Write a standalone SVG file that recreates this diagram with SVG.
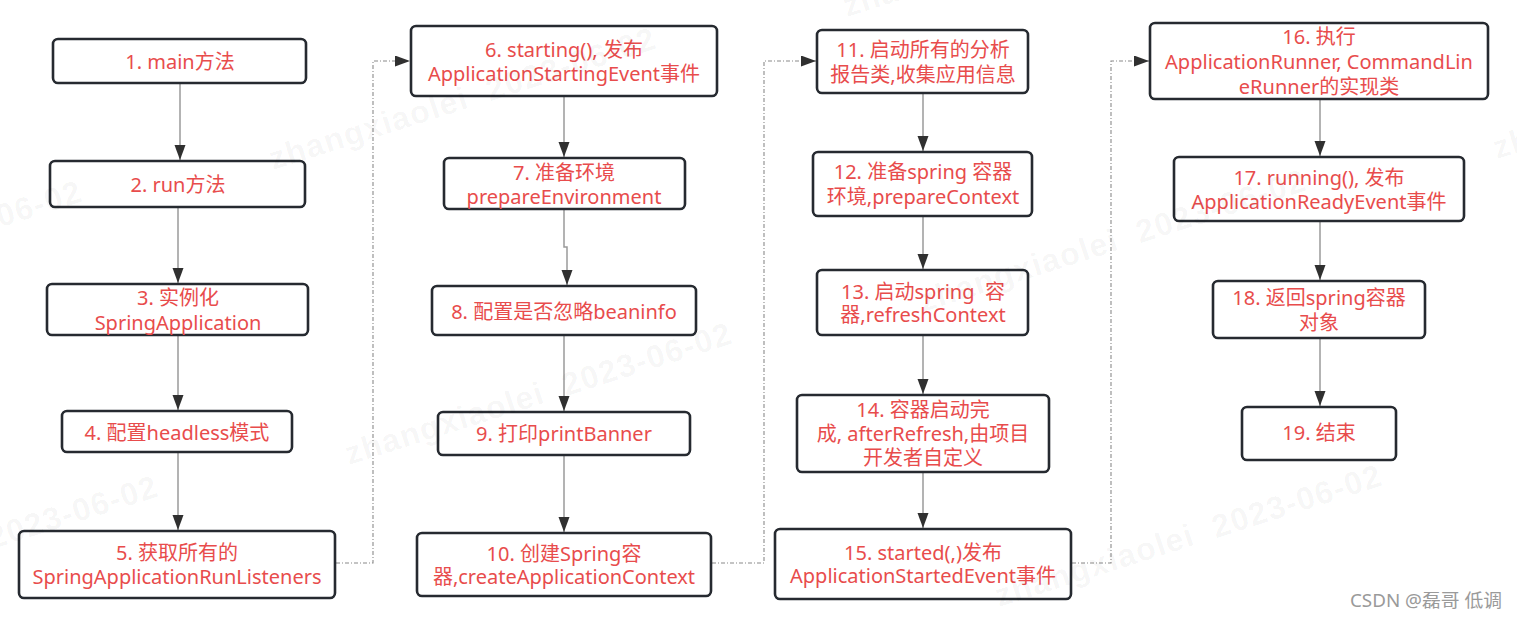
<svg xmlns="http://www.w3.org/2000/svg" width="1517" height="619" viewBox="0 0 1517 619">
<style>
.box{fill:#ffffff;stroke:#262a30;stroke-width:2.6}
.t{font-family:"Noto Sans","Noto Sans CJK SC",sans-serif;font-size:20px;fill:#e84c4c;text-anchor:middle}
.flow{fill:none;stroke:#9a9a9a;stroke-width:1.5}
.jump{fill:none;stroke:#8a8a8a;stroke-width:1.1;stroke-dasharray:4 2 1 2}
.wm{font-family:"Liberation Sans",Arial,sans-serif;font-weight:bold;font-size:32px;fill:#000;fill-opacity:0.045;white-space:pre}
.sig{font-family:"Noto Sans","Noto Sans CJK SC",sans-serif;font-size:18px;fill:#9a9a9a}
</style>
<defs>
<marker id="ah" markerUnits="userSpaceOnUse" markerWidth="16" markerHeight="12" refX="15" refY="5.5" orient="auto">
<path d="M0,0 L15,5.5 L0,11 z" fill="#303030"/>
</marker>
</defs>
<rect width="1517" height="619" fill="#ffffff"/>

<g id="connectors">
<path class="flow" d="M180,84 V160" marker-end="url(#ah)"/>
<path class="flow" d="M178,208 V283" marker-end="url(#ah)"/>
<path class="flow" d="M178,336 V410" marker-end="url(#ah)"/>
<path class="flow" d="M178,452 V530" marker-end="url(#ah)"/>
<path class="flow" d="M564,97 V157" marker-end="url(#ah)"/>
<path class="flow" d="M564,210 V247 H567 V285" marker-end="url(#ah)"/>
<path class="flow" d="M564,336 V411" marker-end="url(#ah)"/>
<path class="flow" d="M564,456 V532" marker-end="url(#ah)"/>
<path class="flow" d="M923,93 V151" marker-end="url(#ah)"/>
<path class="flow" d="M923,216 V269" marker-end="url(#ah)"/>
<path class="flow" d="M923,335 V394" marker-end="url(#ah)"/>
<path class="flow" d="M923,473 V528" marker-end="url(#ah)"/>
<path class="flow" d="M1320,99 V156" marker-end="url(#ah)"/>
<path class="flow" d="M1320,222 V280" marker-end="url(#ah)"/>
<path class="flow" d="M1320,339 V406" marker-end="url(#ah)"/>
<path class="jump" d="M336,563 H373 V61 H410" marker-end="url(#ah)"/>
<path class="jump" d="M712,563 H764 V61 H816" marker-end="url(#ah)"/>
<path class="jump" d="M1072,563 H1111 V61 H1149" marker-end="url(#ah)"/>
</g>

<g id="n1"><rect class="box" x="53" y="39" width="253" height="44" rx="5"/><text class="t" x="180" y="69">1. main方法</text></g>
<g id="n2"><rect class="box" x="50" y="161" width="255" height="46" rx="5"/><text class="t" x="178" y="192">2. run方法</text></g>
<g id="n3"><rect class="box" x="47" y="284" width="261" height="51" rx="5"/><text class="t" x="178" y="305">3. 实例化</text><text class="t" x="178" y="330">SpringApplication</text></g>
<g id="n4"><rect class="box" x="62" y="411" width="230" height="41" rx="5"/><text class="t" x="177" y="440">4. 配置headless模式</text></g>
<g id="n5"><rect class="box" x="19" y="531" width="316" height="67" rx="5"/><text class="t" x="177" y="560">5. 获取所有的</text><text class="t" x="177" y="584">SpringApplicationRunListeners</text></g>

<g id="n6"><rect class="box" x="411" y="26" width="306" height="70" rx="5"/><text class="t" x="564" y="57">6. starting(), 发布</text><text class="t" x="564" y="81">ApplicationStartingEvent事件</text></g>
<g id="n7"><rect class="box" x="444" y="158" width="241" height="51" rx="5"/><text class="t" x="564" y="180">7. 准备环境</text><text class="t" x="564" y="204">prepareEnvironment</text></g>
<g id="n8"><rect class="box" x="432" y="286" width="264" height="49" rx="5"/><text class="t" x="564" y="319">8. 配置是否忽略beaninfo</text></g>
<g id="n9"><rect class="box" x="438" y="412" width="252" height="43" rx="5"/><text class="t" x="564" y="441">9. 打印printBanner</text></g>
<g id="n10"><rect class="box" x="417" y="533" width="294" height="63" rx="5"/><text class="t" x="564" y="561">10. 创建Spring容</text><text class="t" x="564" y="584">器,createApplicationContext</text></g>

<g id="n11"><rect class="box" x="817" y="30" width="211" height="63" rx="5"/><text class="t" x="923" y="57">11. 启动所有的分析</text><text class="t" x="923" y="82">报告类,收集应用信息</text></g>
<g id="n12"><rect class="box" x="813" y="152" width="219" height="64" rx="5"/><text class="t" x="923" y="179">12. 准备spring 容器</text><text class="t" x="923" y="204">环境,prepareContext</text></g>
<g id="n13"><rect class="box" x="817" y="270" width="211" height="65" rx="5"/><text class="t" x="923" y="299" style="white-space:pre">13. 启动spring  容</text><text class="t" x="923" y="322">器,refreshContext</text></g>
<g id="n14"><rect class="box" x="797" y="395" width="252" height="77" rx="5"/><text class="t" x="923" y="417">14. 容器启动完</text><text class="t" x="923" y="441">成, afterRefresh,由项目</text><text class="t" x="923" y="465">开发者自定义</text></g>
<g id="n15"><rect class="box" x="775" y="529" width="296" height="70" rx="5"/><text class="t" x="923" y="560">15. started(,)发布</text><text class="t" x="923" y="583">ApplicationStartedEvent事件</text></g>

<g id="n16"><rect class="box" x="1150" y="23" width="338" height="76" rx="5"/><text class="t" x="1319" y="44">16. 执行</text><text class="t" x="1319" y="69">ApplicationRunner, CommandLin</text><text class="t" x="1319" y="94">eRunner的实现类</text></g>
<g id="n17"><rect class="box" x="1174" y="157" width="290" height="64" rx="5"/><text class="t" x="1319" y="185">17. running(), 发布</text><text class="t" x="1319" y="209">ApplicationReadyEvent事件</text></g>
<g id="n18"><rect class="box" x="1213" y="281" width="212" height="57" rx="5"/><text class="t" x="1319" y="305">18. 返回spring容器</text><text class="t" x="1319" y="330">对象</text></g>
<g id="n19"><rect class="box" x="1242" y="407" width="154" height="53" rx="5"/><text class="t" x="1319" y="440">19. 结束</text></g>

<g id="watermarks">
<text class="wm" transform="translate(273,170) rotate(-17.6)" textLength="403" lengthAdjust="spacing">zhangxiaolei  2023-06-02</text>
<text class="wm" transform="translate(349,465) rotate(-17.6)" textLength="403" lengthAdjust="spacing">zhangxiaolei  2023-06-02</text>
<text class="wm" transform="translate(923,312) rotate(-17.6)" textLength="403" lengthAdjust="spacing">zhangxiaolei  2023-06-02</text>
<text class="wm" transform="translate(999,607) rotate(-17.6)" textLength="403" lengthAdjust="spacing">zhangxiaolei  2023-06-02</text>
<text class="wm" transform="translate(847,17) rotate(-17.6)" textLength="403" lengthAdjust="spacing">zhangxiaolei  2023-06-02</text>
<text class="wm" transform="translate(1497,159) rotate(-17.6)" textLength="403" lengthAdjust="spacing">zhangxiaolei  2023-06-02</text>
<text class="wm" transform="translate(-301,323) rotate(-17.6)" textLength="403" lengthAdjust="spacing">zhangxiaolei  2023-06-02</text>
<text class="wm" transform="translate(-225,618) rotate(-17.6)" textLength="403" lengthAdjust="spacing">zhangxiaolei  2023-06-02</text>
</g>

<text class="sig" x="1350" y="607" textLength="152" lengthAdjust="spacingAndGlyphs">CSDN @磊哥 低调</text>
</svg>
